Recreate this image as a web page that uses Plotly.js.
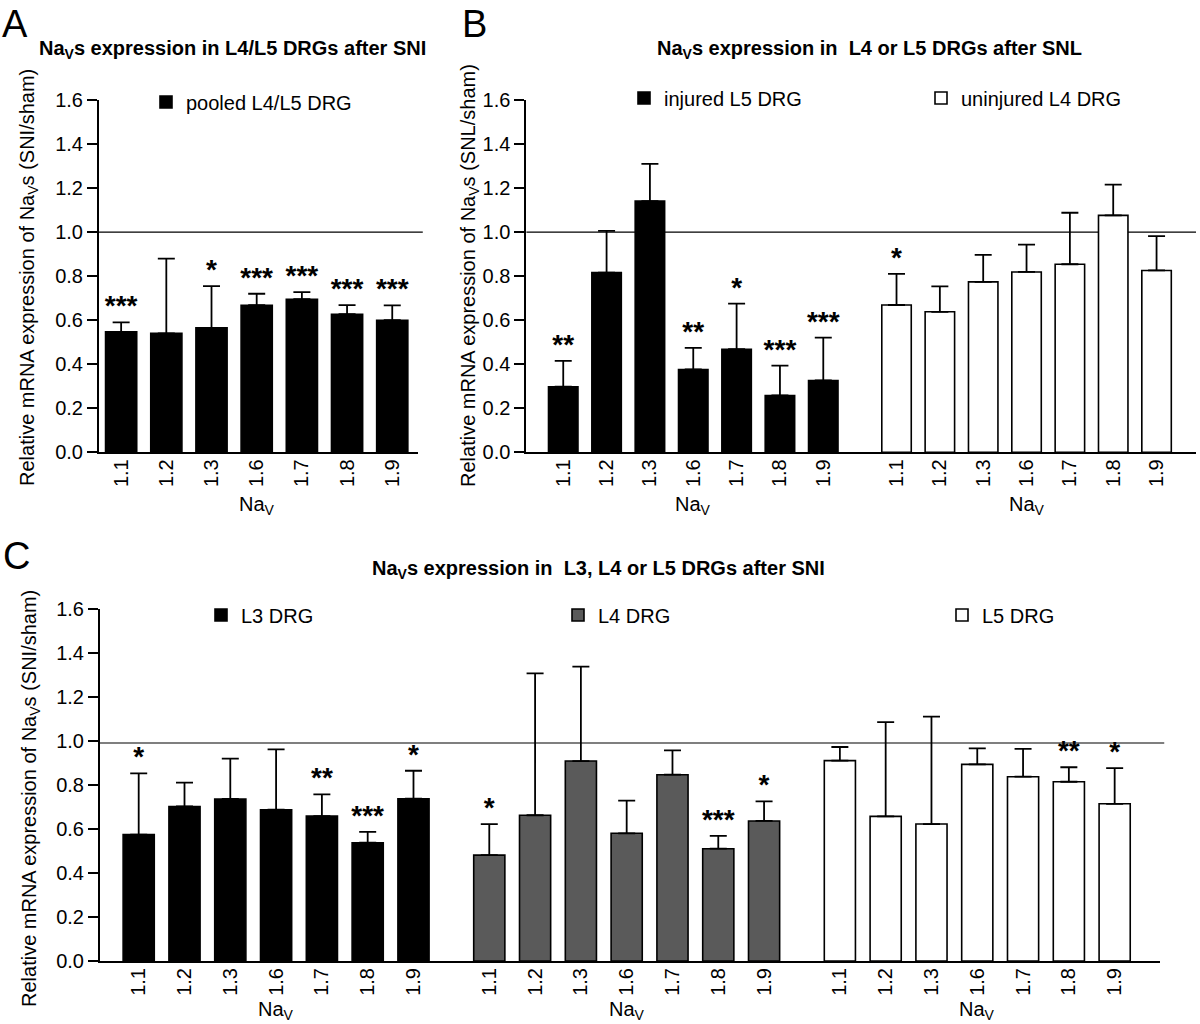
<!DOCTYPE html>
<html>
<head>
<meta charset="utf-8">
<script src="https://cdn.plot.ly/plotly-3.0.1.min.js"></script>
<style>html,body{margin:0;padding:0;background:#fff;}</style>
</head>
<body>
<div id="chart" style="width:1200px;height:1024px;"></div>
<script>
// ---------- data ----------
const naTypes = ['1.1', '1.2', '1.3', '1.6', '1.7', '1.8', '1.9'];

// Panel A: pooled L4/L5 DRG after SNI
const pooledMean = [0.547, 0.540, 0.565, 0.668, 0.695, 0.627, 0.600];
const pooledSem  = [0.043, 0.340, 0.190, 0.052, 0.032, 0.041, 0.067];
const pooledSig  = ['***', '', '*', '***', '***', '***', '***'];

// Panel B: SNL
const injuredMean   = [0.298, 0.816, 1.141, 0.376, 0.468, 0.258, 0.326];
const injuredSem    = [0.117, 0.190, 0.169, 0.098, 0.207, 0.136, 0.195];
const injuredSig    = ['**', '', '', '**', '*', '***', '***'];
const uninjuredMean = [0.669, 0.638, 0.774, 0.819, 0.854, 1.076, 0.826];
const uninjuredSem  = [0.141, 0.116, 0.123, 0.124, 0.234, 0.140, 0.156];
const uninjuredSig  = ['*', '', '', '', '', '', ''];

// Panel C: L3, L4, L5 DRG after SNI
const l3Mean = [0.574, 0.702, 0.736, 0.687, 0.658, 0.537, 0.737];
const l3Sem  = [0.278, 0.108, 0.183, 0.274, 0.099, 0.049, 0.127];
const l3Sig  = ['*', '', '', '', '**', '***', '*'];
const l4Mean = [0.481, 0.662, 0.908, 0.580, 0.846, 0.510, 0.636];
const l4Sem  = [0.141, 0.644, 0.429, 0.148, 0.111, 0.058, 0.089];
const l4Sig  = ['*', '', '', '', '', '***', '*'];
const l5Mean = [0.910, 0.657, 0.622, 0.893, 0.837, 0.814, 0.714];
const l5Sem  = [0.062, 0.428, 0.488, 0.073, 0.126, 0.066, 0.162];
const l5Sig  = ['', '', '', '', '', '**', '*'];

const refLevelAB = 1.0;
const refLevelC = 0.99;

// ---------- helpers ----------
const W = 1200, H = 1024;
const px = v => v / W;
const py = v => 1 - v / H;
const FONT = 'Liberation Sans, Arial, Helvetica, sans-serif';

function positions(offset) { return naTypes.map((_, i) => offset + i); }

function barTrace(xa, ya, offset, mean, sem, color, name, legend, width) {
  return {
    type: 'bar', xaxis: xa, yaxis: ya,
    x: positions(offset), y: mean, width: width,
    name: name, legend: legend, showlegend: true,
    marker: { color: color, line: { color: '#000', width: 1.6 } },
    error_y: { type: 'data', symmetric: false, array: sem,
               arrayminus: sem.map(() => 0), color: '#000', thickness: 1.8, width: 8.5 },
    hoverinfo: 'x+y'
  };
}

function starTrace(xa, ya, offset, mean, sem, sig) {
  const pos = positions(offset);
  const idx = sig.map((s, i) => i).filter(i => sig[i] !== '');
  return {
    type: 'scatter', mode: 'text', xaxis: xa, yaxis: ya,
    x: idx.map(i => pos[i]), y: idx.map(i => mean[i] + sem[i]),
    text: idx.map(i => sig[i]), textposition: 'top center',
    textfont: { family: FONT, size: 28, color: '#000', weight: 700 },
    showlegend: false, hoverinfo: 'skip', cliponaxis: false
  };
}

const gapB = 7.69;   // category offset of second group in B
const gapC = 7.655;  // category offset between groups in C

const traces = [
  barTrace('x', 'y', 0, pooledMean, pooledSem, '#000', 'pooled L4/L5 DRG', 'legend', 0.69),
  starTrace('x', 'y', 0, pooledMean, pooledSem, pooledSig),

  barTrace('x2', 'y2', 0, injuredMean, injuredSem, '#000', 'injured L5 DRG', 'legend2', 0.68),
  barTrace('x2', 'y2', gapB, uninjuredMean, uninjuredSem, '#fff', 'uninjured L4 DRG', 'legend3', 0.68),
  starTrace('x2', 'y2', 0, injuredMean, injuredSem, injuredSig),
  starTrace('x2', 'y2', gapB, uninjuredMean, uninjuredSem, uninjuredSig),

  barTrace('x3', 'y3', 0, l3Mean, l3Sem, '#000', 'L3 DRG', 'legend4', 0.68),
  barTrace('x3', 'y3', gapC, l4Mean, l4Sem, '#5a5a5a', 'L4 DRG', 'legend5', 0.68),
  barTrace('x3', 'y3', 2 * gapC, l5Mean, l5Sem, '#fff', 'L5 DRG', 'legend6', 0.68),
  starTrace('x3', 'y3', 0, l3Mean, l3Sem, l3Sig),
  starTrace('x3', 'y3', gapC, l4Mean, l4Sem, l4Sig),
  starTrace('x3', 'y3', 2 * gapC, l5Mean, l5Sem, l5Sig)
];

function yAxis(domain, anchor) {
  return {
    domain: domain, anchor: anchor, range: [0, 1.6], dtick: 0.2, tick0: 0,
    tickformat: '.1f', showline: true, linecolor: '#000', linewidth: 2,
    ticks: 'outside', ticklen: 10, tickwidth: 2, tickcolor: '#000',
    showgrid: false, zeroline: false, fixedrange: true,
    tickfont: { family: FONT, size: 20, color: '#000' }
  };
}
function xAxis(domain, anchor, range, offsets) {
  const vals = [], txt = [];
  offsets.forEach(o => { positions(o).forEach((p, i) => { vals.push(p); txt.push(naTypes[i]); }); });
  return {
    domain: domain, anchor: anchor, range: range,
    tickmode: 'array', tickvals: vals, ticktext: txt, tickangle: -90,
    ticks: '', showline: true, linecolor: '#000', linewidth: 2,
    showgrid: false, zeroline: false, fixedrange: true, ticklabelstandoff: -3,
    tickfont: { family: FONT, size: 20, color: '#000' }
  };
}

const yDomAB = [py(452.3), py(100)];
const yDomC = [py(961), py(608.7)];

function legendAt(cx, cy) {
  return { x: px(cx - 20), y: py(cy), xanchor: 'left', yanchor: 'middle',
           bgcolor: 'rgba(0,0,0,0)', borderwidth: 0,
           font: { family: FONT, size: 20, color: '#000' },
           itemclick: false, itemdoubleclick: false };
}

function titleAnn(text, cx, cy) {
  return { text: text, xref: 'paper', yref: 'paper', x: px(cx), y: py(cy),
           xanchor: 'center', yanchor: 'middle', showarrow: false,
           font: { family: FONT, size: 20, color: '#000', weight: 700 } };
}
function letterAnn(text, cx, cy) {
  return { text: text, xref: 'paper', yref: 'paper', x: px(cx), y: py(cy),
           xanchor: 'center', yanchor: 'middle', showarrow: false,
           font: { family: FONT, size: 38, color: '#000' } };
}
function yTitleAnn(text, cx, cy) {
  return { text: text, xref: 'paper', yref: 'paper', x: px(cx), y: py(cy),
           xanchor: 'center', yanchor: 'middle', showarrow: false, textangle: -90,
           font: { family: FONT, size: 20, color: '#000' } };
}
function xTitleAnn(xref, xval, ytop) {
  return { text: 'Na<sub>V</sub>', xref: xref, yref: 'paper', x: xval, y: py(ytop),
           xanchor: 'center', yanchor: 'top', showarrow: false,
           font: { family: FONT, size: 20, color: '#000' } };
}

const layout = {
  width: W, height: H, margin: { l: 0, r: 0, t: 0, b: 0 },
  paper_bgcolor: '#fff', plot_bgcolor: 'rgba(0,0,0,0)',
  font: { family: FONT, color: '#000' },
  barmode: 'overlay', hovermode: 'closest',
  xaxis: xAxis([px(99), px(418)], 'y', [-0.49, 6.57], [0]),
  yaxis: yAxis(yDomAB, 'x'),
  xaxis2: xAxis([px(526.4), px(1196)], 'y2', [-0.85, 14.6], [0, gapB]),
  yaxis2: yAxis(yDomAB, 'x2'),
  xaxis3: xAxis([px(100), px(1160)], 'y3', [-0.845, 22.3], [0, gapC, 2 * gapC]),
  yaxis3: yAxis(yDomC, 'x3'),
  legend: legendAt(166, 102),
  legend2: legendAt(644, 98),
  legend3: legendAt(941, 98),
  legend4: legendAt(221, 615),
  legend5: legendAt(578, 615),
  legend6: legendAt(962, 615),
  shapes: [
    { type: 'line', xref: 'x domain', yref: 'y', x0: 0, x1: 1.015, y0: refLevelAB, y1: refLevelAB,
      line: { color: '#000', width: 1.2 }, layer: 'below' },
    { type: 'line', xref: 'x2 domain', yref: 'y2', x0: 0, x1: 1, y0: refLevelAB, y1: refLevelAB,
      line: { color: '#000', width: 1.2 }, layer: 'below' },
    { type: 'line', xref: 'x3 domain', yref: 'y3', x0: 0, x1: 1.004, y0: refLevelC, y1: refLevelC,
      line: { color: '#000', width: 1.2 }, layer: 'below' }
  ],
  annotations: [
    letterAnn('A', 15, 24),
    letterAnn('B', 474, 24),
    letterAnn('C', 16, 556),
    titleAnn('Na<sub>V</sub>s expression in L4/L5 DRGs after SNI', 233, 49),
    titleAnn('Na<sub>V</sub>s expression in  L4 or L5 DRGs after SNL', 869, 49),
    titleAnn('Na<sub>V</sub>s expression in  L3, L4 or L5 DRGs after SNI', 598, 569),
    yTitleAnn('Relative mRNA expression of Na<sub>V</sub>s (SNI/sham)', 28, 278),
    yTitleAnn('Relative mRNA expression of Na<sub>V</sub>s (SNL/sham)', 469, 276),
    yTitleAnn('Relative mRNA expression of Na<sub>V</sub>s (SNI/sham)', 30, 799),
    xTitleAnn('x', 3, 491),
    xTitleAnn('x2', 3, 491),
    xTitleAnn('x2', gapB + 3, 491),
    xTitleAnn('x3', 3, 996),
    xTitleAnn('x3', gapC + 3, 996),
    xTitleAnn('x3', 2 * gapC + 3, 996)
  ]
};

Plotly.newPlot('chart', traces, layout, { displayModeBar: false, responsive: false });
</script>
</body>
</html>
